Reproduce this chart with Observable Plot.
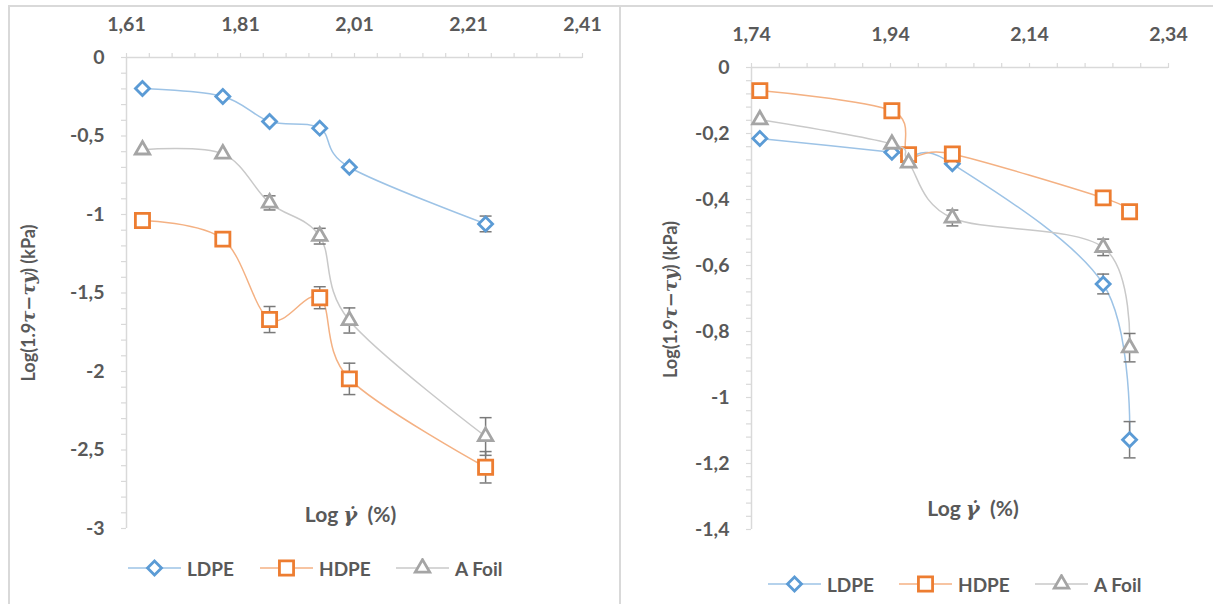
<!DOCTYPE html>
<html>
<head>
<meta charset="utf-8">
<script src="https://cdn.jsdelivr.net/npm/d3@7"></script>
<script src="https://cdn.jsdelivr.net/npm/@observablehq/plot@0.6"></script>
<style>
  html, body { margin: 0; padding: 0; background: #fff; }
  #wrap { position: relative; width: 1213px; height: 604px; overflow: hidden; font-family: Lato, "Open Sans", sans-serif; }
  .panel { position: absolute; top: 0; }
  .border { position: absolute; background: #d9d9d9; pointer-events: none; }
  .legend-item { position: absolute; display: flex; align-items: center; height: 20px; font-weight: bold; font-size: 19px; color: #595959; }
  .legend-item svg { display: block; margin-right: 6px; }
</style>
</head>
<body>
<div id="wrap"></div>
<script>
// ---------- data ----------
const seriesNames = ["LDPE", "HDPE", "A Foil"];

// Left panel
const leftX      = [1.638, 1.779, 1.861, 1.949, 2.001, 2.240];
const leftLDPE   = [-0.197, -0.248, -0.408, -0.450, -0.699, -1.060];
const leftHDPE   = [-1.038, -1.157, -1.669, -1.530, -2.047, -2.610];
const leftAFoil  = [-0.588, -0.614, -0.926, -1.138, -1.675, -2.414];
const leftErrLDPE  = [0, 0, 0, 0, 0, 0.05];
const leftErrHDPE  = [0, 0, 0.083, 0.07, 0.10, 0.10];
const leftErrAFoil = [0, 0, 0.045, 0.05, 0.08, 0.12];
const leftXTicks = [1.61, 1.81, 2.01, 2.21, 2.41];
const leftYTicks = [0, -0.5, -1, -1.5, -2, -2.5, -3];

// Right panel
const rightX      = [1.752, 1.942, 1.966, 2.029, 2.246, 2.284];
const rightLDPE   = [-0.215, -0.257, -0.268, -0.292, -0.656, -1.128];
const rightHDPE   = [-0.070, -0.131, -0.264, -0.262, -0.395, -0.437];
const rightAFoil  = [-0.158, -0.232, -0.289, -0.456, -0.545, -0.849];
const rightErrLDPE  = [0, 0, 0, 0, 0.03, 0.055];
const rightErrHDPE  = [0, 0, 0, 0, 0, 0];
const rightErrAFoil = [0, 0, 0, 0.024, 0.025, 0.043];
const rightXTicks = [1.74, 1.94, 2.14, 2.34];
const rightYTicks = [0, -0.2, -0.4, -0.6, -0.8, -1, -1.2, -1.4];

const xTitle = "Log γ\u0307  (%)";
const yTitle = "Log(1.9τ−τy) (kPa)";

// ---------- styles ----------
const lineColors = ["#9dc3e6", "#f4b183", "#c9c9c9"];
const markColors = ["#5b9bd5", "#ed7d31", "#a5a5a5"];
const symbols = ["diamond2", "square2", "triangle2"];
const radii = [6.3, 9, 6.9];
const errColor = "#7a7a7a";
const axisColor = "#d9d9d9";
const textColor = "#595959";

const cap = { draw(ctx) { ctx.moveTo(-6, 0); ctx.lineTo(6, 0); } };

function steps(a, b, step) {
  const n = Math.round(Math.abs(b - a) / step);
  return d3.range(n + 1).map(i => +(a + Math.sign(b - a) * i * step).toFixed(4));
}

const fmtX = d => d.toFixed(2).replace(".", ",");
const fmtY = d => String(d).replace(".", ",");

function buildPanel(cfg) {
  const marks = [
    Plot.ruleY([0], { stroke: axisColor, strokeWidth: 1.5 }),
    Plot.ruleX([cfg.xDomain[0]], { stroke: axisColor, strokeWidth: 1.5 }),
    Plot.axisX(cfg.xMinor, { anchor: "top", tickSize: 5, stroke: axisColor, strokeWidth: 1.2, tickFormat: () => "", label: null }),
    Plot.axisY(cfg.yMinor, { anchor: "left", tickSize: 5, stroke: axisColor, strokeWidth: 1.2, tickFormat: () => "", label: null }),
    Plot.axisX(cfg.xTicks, { anchor: "top", tickSize: 0, tickPadding: 27, tickFormat: fmtX, fill: textColor, label: null }),
    Plot.axisY(cfg.yTicks, { anchor: "left", tickSize: 0, tickPadding: 22, tickFormat: fmtY, fill: textColor, label: null })
  ];
  cfg.values.forEach((ys, si) => {
    const rows = cfg.x.map((x, i) => ({ x, y: ys[i], e: cfg.errs[si][i] }));
    const er = rows.filter(d => d.e > 0);
    marks.push(Plot.line(rows, { x: "x", y: "y", curve: "cardinal", stroke: lineColors[si], strokeWidth: 1.5 }));
    marks.push(Plot.ruleX(er, { x: "x", y1: d => d.y - d.e, y2: d => d.y + d.e, stroke: errColor, strokeWidth: 1.5 }));
    marks.push(Plot.dot(er, { x: "x", y: d => d.y + d.e, symbol: cap, r: 4, stroke: errColor, strokeWidth: 1.5 }));
    marks.push(Plot.dot(er, { x: "x", y: d => d.y - d.e, symbol: cap, r: 4, stroke: errColor, strokeWidth: 1.5 }));
    marks.push(Plot.dot(rows, { x: "x", y: "y", symbol: symbols[si], r: radii[si], stroke: markColors[si], strokeWidth: 2.8, fill: "white" }));
  });
  marks.push(Plot.text([xTitle], { frameAnchor: "bottom", textAnchor: "middle", lineAnchor: "middle", dx: cfg.xtDx, dy: cfg.xtDy, fill: textColor, fontSize: 21 }));
  marks.push(Plot.text([yTitle], { frameAnchor: "left", textAnchor: "middle", lineAnchor: "middle", rotate: -90, dx: cfg.ytDx, dy: cfg.ytDy, fill: textColor, fontSize: 18 }));

  const svg = Plot.plot({
    width: cfg.width,
    height: cfg.height,
    marginLeft: cfg.ml, marginRight: cfg.mr, marginTop: cfg.mt, marginBottom: cfg.mb,
    x: { domain: cfg.xDomain },
    y: { domain: cfg.yDomain },
    style: { fontFamily: "Lato, 'Open Sans', sans-serif", fontSize: "19.5px", fontWeight: "bold", color: textColor, background: "transparent", overflow: "visible" },
    marks
  });
  richText(svg, xTitle, [["Log ", false], ["γ\u0307", true], ["  (%)", false]]);
  richText(svg, yTitle, [["Log(1.9", false], ["τ−τy", true], [") (kPa)", false]]);
  return svg;
}

function richText(svg, plain, parts) {
  d3.select(svg).selectAll("text").filter(function () { return this.textContent === plain; }).each(function () {
    const t = d3.select(this);
    t.text(null);
    parts.forEach(([s, it]) => {
      const sp = t.append("tspan").text(s);
      if (it) sp.attr("font-style", "italic").attr("font-family", "'DejaVu Serif', 'Liberation Serif', serif").attr("font-weight", "bold");
    });
  });
}

const wrap = document.getElementById("wrap");

const left = buildPanel({
  x: leftX, values: [leftLDPE, leftHDPE, leftAFoil], errs: [leftErrLDPE, leftErrHDPE, leftErrAFoil],
  xDomain: [1.61, 2.41], yDomain: [-3, 0],
  xTicks: leftXTicks, yTicks: leftYTicks,
  xMinor: steps(1.61, 2.41, 0.04), yMinor: steps(0, -3, 0.1),
  width: 620, height: 545, ml: 126, mr: 38, mt: 57, mb: 17,
  xtDx: -4, xtDy: -13, ytDx: -97, ytDy: 10
});
const leftDiv = document.createElement("div");
leftDiv.className = "panel"; leftDiv.style.left = "0px";
leftDiv.appendChild(left);
wrap.appendChild(leftDiv);

const right = buildPanel({
  x: rightX, values: [rightLDPE, rightHDPE, rightAFoil], errs: [rightErrLDPE, rightErrHDPE, rightErrAFoil],
  xDomain: [1.74, 2.34], yDomain: [-1.4, 0],
  xTicks: rightXTicks, yTicks: rightYTicks,
  xMinor: steps(1.74, 2.34, 0.04), yMinor: steps(0, -1.4, 0.04),
  width: 593, height: 545, ml: 131, mr: 45, mt: 67, mb: 16,
  xtDx: 13, xtDy: -20, ytDx: -80, ytDy: 1
});
const rightDiv = document.createElement("div");
rightDiv.className = "panel"; rightDiv.style.left = "620px";
rightDiv.appendChild(right);
wrap.appendChild(rightDiv);

// borders
[[8, 5, 1205, 2], [8, 5, 2, 599], [619, 5, 2, 599]].forEach(([l, t, w, h]) => {
  const b = document.createElement("div");
  b.className = "border";
  Object.assign(b.style, { left: l + "px", top: t + "px", width: w + "px", height: h + "px" });
  wrap.appendChild(b);
});

// legends
function legendItem(si, x, y) {
  const item = document.createElement("div");
  item.className = "legend-item";
  item.style.left = x + "px";
  item.style.top = (y - 10) + "px";
  const s = d3.create("svg").attr("width", 53).attr("height", 20);
  s.append("line").attr("x1", 0).attr("x2", 53).attr("y1", 10).attr("y2", 10).attr("stroke", lineColors[si]).attr("stroke-width", 1.5);
  const symType = [d3.symbolDiamond2, d3.symbolSquare2, d3.symbolTriangle2][si];
  s.append("path").attr("d", d3.symbol(symType, Math.PI * radii[si] * radii[si])())
    .attr("transform", "translate(26.5,10)").attr("fill", "white").attr("stroke", markColors[si]).attr("stroke-width", 2.8);
  item.appendChild(s.node());
  const label = document.createElement("span");
  label.textContent = seriesNames[si];
  item.appendChild(label);
  wrap.appendChild(item);
}
[128, 260, 396].forEach((x, i) => legendItem(i, x, 568));
[768, 899, 1035].forEach((x, i) => legendItem(i, x, 584));
</script>
</body>
</html>
